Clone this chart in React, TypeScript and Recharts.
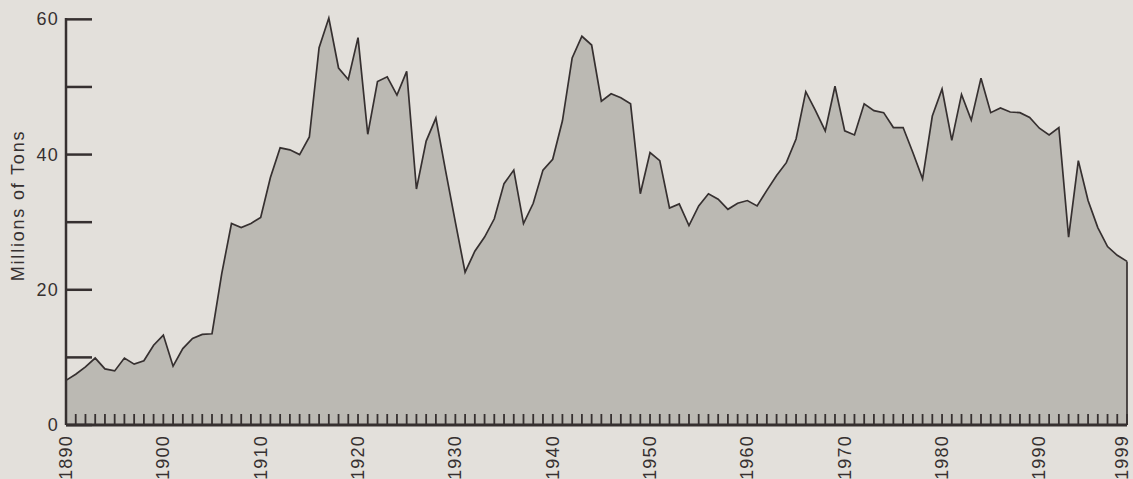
import { AreaChart, Area, XAxis, YAxis, ReferenceLine } from "recharts";

const START_YEAR = 1890;

// millions of tons, one reading per year 1890-1999
const tons = [
  6.6, 7.5, 8.6, 9.9, 8.3, 8.0, 9.9, 9.0, 9.5, 11.8,
  13.3, 8.7, 11.3, 12.8, 13.4, 13.5, 22.4, 29.8, 29.2, 29.8,
  30.7, 36.6, 41.0, 40.7, 40.0, 42.6, 55.8, 60.2, 52.8, 51.1,
  57.3, 43.0, 50.8, 51.5, 48.8, 52.3, 34.9, 42.0, 45.4, 37.6,
  30.0, 22.6, 25.7, 27.8, 30.5, 35.7, 37.7, 29.8, 32.8, 37.7,
  39.3, 45.0, 54.3, 57.5, 56.2, 47.9, 49.0, 48.4, 47.5, 34.2,
  40.3, 39.1, 32.1, 32.7, 29.5, 32.4, 34.2, 33.4, 31.9, 32.8,
  33.2, 32.4, 34.7, 36.9, 38.8, 42.3, 49.3, 46.5, 43.5, 50.1,
  43.5, 42.9, 47.5, 46.5, 46.2, 44.0, 44.0, 40.3, 36.4, 45.7,
  49.7, 42.1, 48.9, 45.1, 51.3, 46.2, 46.9, 46.3, 46.2, 45.5,
  43.9, 42.9, 44.0, 27.8, 39.1, 33.2, 29.2, 26.4, 25.1, 24.2,
];

const years = tons.map((_, i) => START_YEAR + i);
const yTicks = [0, 10, 20, 30, 40, 50, 60];
const yLabels = [0, 20, 40, 60];
const xLabels = [1890, 1900, 1910, 1920, 1930, 1940, 1950, 1960, 1970, 1980, 1990, 1999];

const data = years.map((year, i) => ({ year, tons: tons[i] }));
const lastYear = years[years.length - 1];
const lastValue = tons[tons.length - 1];

const INK = "#363030";
const FONT = "'Liberation Sans', Arial, Helvetica, sans-serif";

function YTick(props: any) {
  const { x, y, payload } = props;
  return (
    <g>
      <line x1={x} y1={y} x2={x + 26} y2={y} stroke={INK} strokeWidth={2.5} />
      {yLabels.includes(payload.value) && (
        <text
          x={x - 7}
          y={y}
          textAnchor="end"
          dominantBaseline="central"
          fill={INK}
          fontSize={18}
          fontFamily={FONT}
          letterSpacing={1.2}
        >
          {payload.value}
        </text>
      )}
    </g>
  );
}

function XTick(props: any) {
  const { x, y, payload } = props;
  const ty = y + 10;
  // the last label sits a little inside the right edge
  const tx = payload.value === lastYear ? x - 5 : x;
  return (
    <g>
      <line x1={x} y1={y} x2={x} y2={y - 11} stroke={INK} strokeWidth={1.8} />
      {xLabels.includes(payload.value) && (
        <text
          x={tx}
          y={ty}
          transform={`rotate(-90 ${tx} ${ty})`}
          textAnchor="end"
          dominantBaseline="central"
          fill={INK}
          fontSize={18}
          fontFamily={FONT}
          letterSpacing={1.2}
        >
          {payload.value}
        </text>
      )}
    </g>
  );
}

function YLabel(props: any) {
  const vb = props.viewBox;
  const cx = 18;
  const cy = vb.y + vb.height / 2 - 16;
  return (
    <text
      x={cx}
      y={cy}
      transform={`rotate(-90 ${cx} ${cy})`}
      textAnchor="middle"
      dominantBaseline="central"
      fill={INK}
      fontSize={18}
      fontFamily={FONT}
      letterSpacing={1.8}
    >
      Millions of Tons
    </text>
  );
}

export default function App() {
  return (
    <div
      style={{
        position: "absolute",
        left: 0,
        top: 0,
        width: 1133,
        height: 479,
        background: "#e3e0db",
      }}
    >
      <AreaChart
        width={1133}
        height={479}
        data={data}
        margin={{ top: 18, right: 6, left: 0, bottom: 0 }}
      >
        <Area
          type="linear"
          dataKey="tons"
          stroke={INK}
          strokeWidth={1.7}
          fill="#bbb9b3"
          fillOpacity={1}
          isAnimationActive={false}
        />
        <ReferenceLine
          segment={[
            { x: lastYear, y: 0 },
            { x: lastYear, y: lastValue },
          ]}
          stroke={INK}
          strokeWidth={1.7}
        />
        <XAxis
          dataKey="year"
          type="number"
          domain={[START_YEAR, lastYear]}
          ticks={years}
          interval={0}
          height={54}
          tickSize={0}
          tickMargin={0}
          tickLine={false}
          axisLine={{ stroke: INK, strokeWidth: 3 }}
          tick={<XTick />}
        />
        <YAxis
          type="number"
          domain={[0, 60]}
          ticks={yTicks}
          interval={0}
          width={66}
          tickSize={0}
          tickMargin={0}
          tickLine={false}
          axisLine={{ stroke: INK, strokeWidth: 2.5 }}
          tick={<YTick />}
          label={<YLabel />}
        />
      </AreaChart>
    </div>
  );
}
